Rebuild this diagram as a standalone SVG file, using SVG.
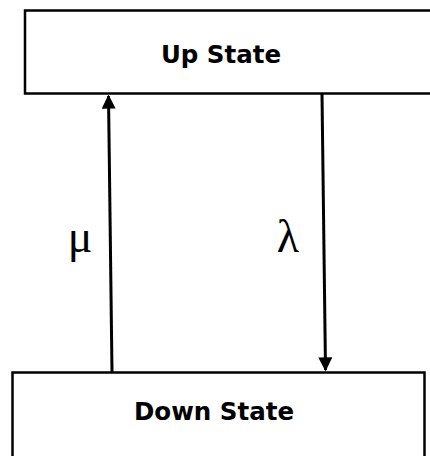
<svg xmlns="http://www.w3.org/2000/svg" width="430" height="456" viewBox="0 0 430 456">
<defs>
<style>
.box{fill:#fff;stroke:#000;stroke-width:2.5}
.lbl{font-family:"DejaVu Sans",Verdana,sans-serif;font-weight:bold;font-size:24.5px;fill:#000;text-anchor:middle}
.rate{font-family:"Liberation Serif","Times New Roman",serif;font-size:46px;fill:#000;text-anchor:middle}
.conn{stroke:#000;stroke-width:3;fill:none}
</style>
<marker id="ah" viewBox="0 0 10 10" refX="9" refY="5" markerWidth="14" markerHeight="14" markerUnits="userSpaceOnUse" orient="auto">
<path d="M0,0 L10,5 L0,10 z" fill="#000"/>
</marker>
</defs>
<rect width="430" height="456" fill="#fff"/>
<g id="up">
<rect class="box" x="25" y="10.5" width="420" height="83"/>
<text class="lbl" x="221" y="63">Up State</text>
</g>
<g id="down">
<rect class="box" x="12.5" y="372.5" width="412" height="100"/>
<text class="lbl" x="214" y="420">Down State</text>
</g>
<g id="connectors">
<line class="conn" x1="112" y1="372" x2="108.5" y2="96" marker-end="url(#ah)"/>
<line class="conn" x1="322" y1="94" x2="325.5" y2="370" marker-end="url(#ah)"/>
<text class="rate" x="80" y="252">μ</text>
<text class="rate" x="288" y="252">λ</text>
</g>
</svg>
